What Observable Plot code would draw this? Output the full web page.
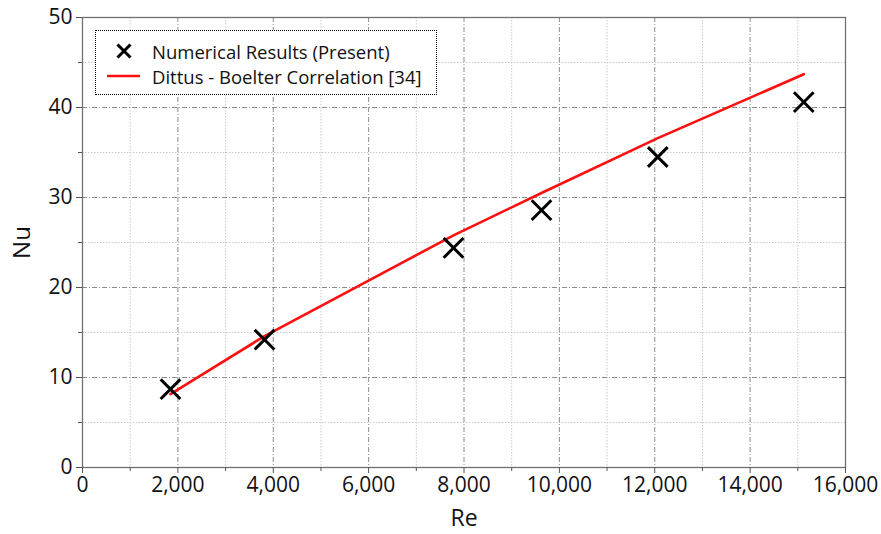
<!DOCTYPE html>
<html>
<head>
<meta charset="utf-8">
<script src="https://cdn.jsdelivr.net/npm/d3@7"></script>
<script src="https://cdn.jsdelivr.net/npm/@observablehq/plot@0.6"></script>
<style>
  body { margin: 0; background: #fff; }
  #wrap { position: relative; width: 881px; height: 534px; font-family: "Open Sans", sans-serif; }
  #legend { position: absolute; left: 95px; top: 30px; width: 342px; height: 65px; border: 1.6px dotted #000; background: #fff; box-sizing: border-box; font-size: 18.5px; color: #111; }
  .item { position: absolute; left: 0; height: 24px; display: flex; align-items: center; }
  .item span { position: absolute; left: 56px; white-space: nowrap; }
</style>
</head>
<body>
<div id="wrap"></div>
<script>
// Data
const reNum = [1845, 3817, 7780, 9625, 12064, 15125];
const nuNum = [8.7, 14.2, 24.4, 28.6, 34.5, 40.6];
const reCorr = [1845, 3817, 7780, 9625, 12064, 15125];
const nuCorr = [8.15, 14.6, 25.8, 30.5, 36.6, 43.7];
const xMajor = [0, 2000, 4000, 6000, 8000, 10000, 12000, 14000, 16000];
const xMinor = [1000, 3000, 5000, 7000, 9000, 11000, 13000, 15000];
const yMajor = [0, 10, 20, 30, 40, 50];
const yMinor = [5, 15, 25, 35, 45];
const legendLabels = ["Numerical Results (Present)", "Dittus - Boelter Correlation [34]"];

const numData = reNum.map((re, i) => ({re, nu: nuNum[i]}));
const corrData = reCorr.map((re, i) => ({re, nu: nuCorr[i]}));
const xInner = xMajor.slice(1, -1);
const yInner = yMajor.slice(1, -1);

const gridMajor = {stroke: "#808080", strokeWidth: 0.9, strokeDasharray: "5,2,1,2"};
const gridMinor = {stroke: "#c4c4c4", strokeWidth: 0.9, strokeDasharray: "1.5,1.5"};

const chart = Plot.plot({
  width: 881,
  height: 534,
  marginLeft: 82,
  marginRight: 36,
  marginTop: 17,
  marginBottom: 67,
  style: {fontFamily: "'Open Sans', sans-serif", background: "#fff", overflow: "visible"},
  x: {domain: [0, 16000]},
  y: {domain: [0, 50]},
  marks: [
    Plot.ruleX(xMinor, gridMinor),
    Plot.ruleY(yMinor, gridMinor),
    Plot.ruleX(xInner, gridMajor),
    Plot.ruleY(yInner, gridMajor),
    Plot.frame({stroke: "#707070", strokeWidth: 1.3}),
    Plot.axisX({ticks: xMajor, tickFormat: d3.format(","), tickSize: 6, tickPadding: 4, fontSize: 21, color: "#111", stroke: "#555", label: null}),
    Plot.axisX({ticks: xMinor, tickSize: 4, text: null, stroke: "#555", label: null}),
    Plot.axisY({ticks: yMajor, tickSize: 6, tickPadding: 4, fontSize: 21, color: "#111", stroke: "#555", label: null}),
    Plot.axisY({ticks: yMinor, tickSize: 4, text: null, stroke: "#555", label: null}),
    Plot.axisY({anchor: "right", ticks: yInner, tickSize: -6, text: null, stroke: "#555", label: null}),
    Plot.axisX({anchor: "bottom", ticks: [], label: "Re", labelAnchor: "center", labelArrow: "none", labelOffset: 58, fontSize: 23, color: "#111"}),
    Plot.axisY({anchor: "left", ticks: [], label: "Nu", labelAnchor: "center", labelArrow: "none", labelOffset: 70, fontSize: 24, color: "#111"}),
    Plot.line(corrData, {x: "re", y: "nu", stroke: "#ff1010", strokeWidth: 2.6}),
    Plot.dot(numData, {x: "re", y: "nu", symbol: "times", r: 9, stroke: "#000", strokeWidth: 3})
  ]
});

const wrap = document.getElementById("wrap");
wrap.appendChild(chart);

const legend = document.createElement("div");
legend.id = "legend";
legend.innerHTML = `
  <div class="item" style="top:8px;width:100%">
    <svg width="40" height="24" style="position:absolute;left:18px;top:0"><path d="M3.5,5.5L16.5,18.5M16.5,5.5L3.5,18.5" stroke="#000" stroke-width="3" fill="none"/></svg>
    <span>${legendLabels[0]}</span>
  </div>
  <div class="item" style="top:33px;width:100%">
    <svg width="40" height="24" style="position:absolute;left:10px;top:0"><line x1="1" y1="12" x2="34" y2="12" stroke="#ff1010" stroke-width="2.6"/></svg>
    <span>${legendLabels[1]}</span>
  </div>`;
wrap.appendChild(legend);
</script>
</body>
</html>
